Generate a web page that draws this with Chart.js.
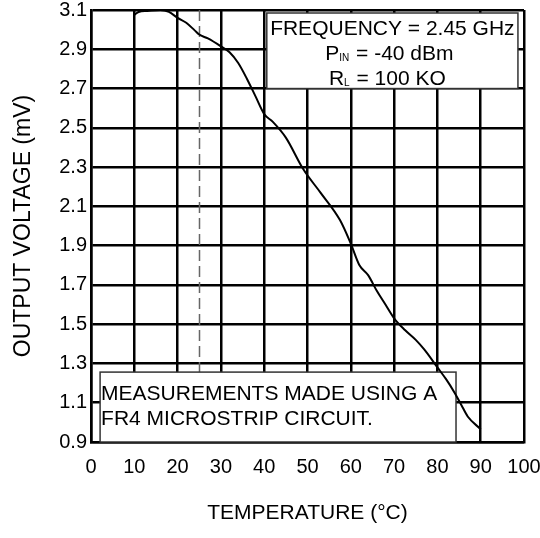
<!DOCTYPE html>
<html>
<head>
<meta charset="utf-8">
<script src="https://cdn.jsdelivr.net/npm/chart.js"></script>
<style>
  html, body { margin: 0; padding: 0; background: #fff; }
</style>
</head>
<body>
<canvas id="voltChart" width="540" height="538"></canvas>
<script>
// output voltage vs temperature
const temps = [10, 11, 13, 16, 18, 20, 22, 24, 25, 27, 30, 32, 34, 36, 38, 40, 42, 45, 49, 53, 57.5, 60, 62, 64, 66, 68, 70, 72.5, 75, 77, 80, 82, 84, 85.5, 87, 90];
const volts = [3.075, 3.09, 3.095, 3.1, 3.09, 3.06, 3.035, 2.995, 2.975, 2.955, 2.915, 2.885, 2.83, 2.75, 2.66, 2.57, 2.53, 2.45, 2.29, 2.17, 2.03, 1.91, 1.8, 1.75, 1.67, 1.6, 1.53, 1.47, 1.42, 1.37, 1.28, 1.22, 1.15, 1.09, 1.03, 0.965];
const xTicks = [0, 10, 20, 30, 40, 50, 60, 70, 80, 90, 100];
const yTicks = [0.9, 1.1, 1.3, 1.5, 1.7, 1.9, 2.1, 2.3, 2.5, 2.7, 2.9, 3.1];
const refTemp = 25; // dashed line
const noteLines = ['MEASUREMENTS MADE USING A', 'FR4 MICROSTRIP CIRCUIT.'];

const FONT = '"Liberation Sans", Arial, sans-serif';

// draws "main" + subscript + rest, centered on cx
function subText(ctx, cx, y, main, sub, rest) {
  ctx.font = '21px ' + FONT;
  const w1 = ctx.measureText(main).width;
  const w3 = ctx.measureText(rest).width;
  ctx.font = '10px ' + FONT;
  const w2 = ctx.measureText(sub).width + 1;
  let x = cx - (w1 + w2 + w3) / 2;
  ctx.textAlign = 'left';
  ctx.textBaseline = 'alphabetic';
  ctx.font = '21px ' + FONT;
  ctx.fillText(main, x, y);
  x += w1;
  ctx.font = '10px ' + FONT;
  ctx.fillText(sub, x, y + 1);
  x += w2;
  ctx.font = '21px ' + FONT;
  ctx.fillText(rest, x, y);
}

const notesPlugin = {
  id: 'notes',
  beforeDatasetsDraw(chart) {
    const { ctx, chartArea: a, scales: { x, y } } = chart;
    ctx.save();

    // dashed vertical line at 25 C
    const xr = Math.round(x.getPixelForValue(refTemp)) + 0.5;
    ctx.strokeStyle = '#666';
    ctx.lineWidth = 1.5;
    ctx.setLineDash([11, 5]);
    ctx.beginPath();
    ctx.moveTo(xr, a.top);
    ctx.lineTo(xr, a.bottom);
    ctx.stroke();
    ctx.setLineDash([]);

    ctx.fillStyle = '#fff';
    ctx.strokeStyle = '#333';
    ctx.lineWidth = 1.5;

    // top right box
    const l1 = x.getPixelForValue(40.6), r1 = x.getPixelForValue(98.6);
    const t1 = a.top + 3, b1 = y.getPixelForValue(2.7);
    ctx.fillRect(l1, t1, r1 - l1, b1 - t1);
    ctx.strokeRect(l1, t1, r1 - l1, b1 - t1);

    // bottom left box
    const l2 = x.getPixelForValue(2.1), r2 = x.getPixelForValue(84.3);
    const t2 = y.getPixelForValue(1.256), b2 = a.bottom;
    ctx.fillRect(l2, t2, r2 - l2, b2 - t2);
    ctx.strokeRect(l2, t2, r2 - l2, b2 - t2);

    ctx.fillStyle = '#000';
    const cx = (l1 + r1) / 2;
    ctx.font = '21px ' + FONT;
    ctx.textAlign = 'center';
    ctx.textBaseline = 'alphabetic';
    ctx.fillText('FREQUENCY = 2.45 GHz', cx, t1 + 22);
    subText(ctx, cx - 3, t1 + 47, 'P', 'IN', ' = -40 dBm');
    subText(ctx, cx - 5, t1 + 72, 'R', 'L', ' = 100 KO');

    ctx.font = '21px ' + FONT;
    ctx.textAlign = 'left';
    ctx.textBaseline = 'middle';
    noteLines.forEach((s, i) => ctx.fillText(s, l2 + 1, t2 + 22 + i * 25));

    ctx.restore();
  }
};

const ctx = document.getElementById('voltChart').getContext('2d');
const chart = new Chart(ctx, {
  type: 'line',
  data: {
    datasets: [{
      data: temps.map((t, i) => ({ x: t, y: volts[i] })),
      borderColor: '#000',
      borderWidth: 2,
      pointRadius: 0,
      fill: false,
      cubicInterpolationMode: 'monotone'
    }]
  },
  options: {
    responsive: false,
    animation: false,
    layout: { padding: { top: 10, right: 16, left: 0, bottom: 0 } },
    plugins: {
      legend: { display: false },
      tooltip: { enabled: false }
    },
    scales: {
      x: {
        type: 'linear',
        min: 0,
        max: 100,
        afterBuildTicks: s => { s.ticks = xTicks.map(v => ({ value: v })); },
        afterFit: s => { s.height = 96; s.paddingLeft = 0; s.paddingRight = 0; },
        grid: { color: '#000', lineWidth: 2.5, drawTicks: false },
        border: { color: '#000', width: 2.5 },
        ticks: { color: '#000', padding: 13, maxRotation: 0, autoSkip: false, font: { family: FONT, size: 20 } },
        title: { display: true, text: 'TEMPERATURE (°C)', color: '#000', padding: { bottom: 12 }, font: { family: FONT, size: 21 } }
      },
      y: {
        type: 'linear',
        min: 0.9,
        max: 3.1,
        afterBuildTicks: s => { s.ticks = yTicks.map(v => ({ value: v })); },
        afterFit: s => { s.width = 91; s.paddingTop = 0; s.paddingBottom = 0; },
        grid: { color: '#000', lineWidth: 2.5, drawTicks: false },
        border: { color: '#000', width: 2.5 },
        ticks: { color: '#000', padding: 4, autoSkip: false, font: { family: FONT, size: 20 }, callback: v => v.toFixed(1) },
        title: { display: true, text: 'OUTPUT VOLTAGE (mV)', color: '#000', padding: { top: 10 }, font: { family: FONT, size: 23 } }
      }
    }
  },
  plugins: [notesPlugin]
});
</script>
</body>
</html>
